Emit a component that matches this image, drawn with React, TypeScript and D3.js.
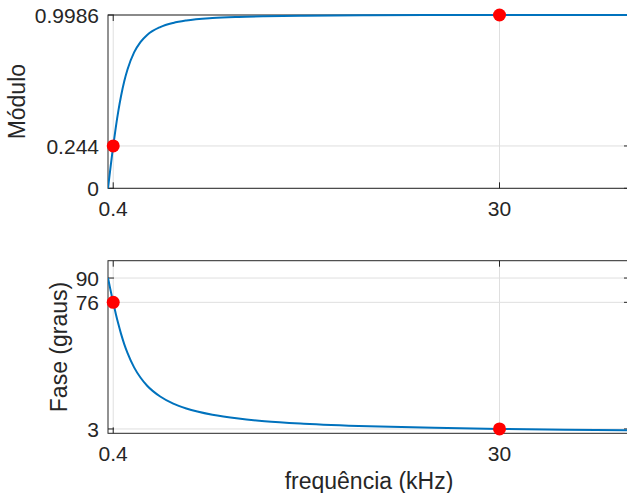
import React from "react";
import * as d3 from "d3";

// frequency samples (kHz)
const freqs = [0, 0.1, 0.2, 0.3, 0.4, 0.6, 0.8, 1.0, 1.25, 1.5, 2, 2.5, 3, 4, 5, 6, 8, 10, 12, 15, 20, 25, 30, 35, 40];
// magnitude
const modulo = [0, 0.063, 0.125, 0.185, 0.244, 0.353, 0.449, 0.532, 0.618, 0.686, 0.783, 0.844, 0.884, 0.929, 0.953, 0.967, 0.981, 0.9876, 0.9913, 0.9944, 0.9969, 0.998, 0.9986, 0.999, 0.9992];
// phase (degrees)
const fase = [90, 86.4, 82.8, 79.3, 75.9, 69.3, 63.3, 57.8, 51.8, 46.7, 38.5, 32.5, 27.9, 21.7, 17.6, 14.8, 11.2, 9.0, 7.5, 6.05, 4.55, 3.64, 3.03, 2.6, 2.28];

const markFreqs = [0.4, 30];
const markModulo = [0.244, 0.9986];
const markFase = [76, 3];

const xTicks = [0.4, 30];
const xTickLabels = ["0.4", "30"];
const yTicksTop = [0, 0.244, 0.9986];
const yTickLabelsTop = ["0", "0.244", "0.9986"];
const yTicksBot = [3, 76, 90];
const yTickLabelsBot = ["3", "76", "90"];

const W = 627;
const H = 493;
const LEFT = 108;
const RIGHT = 630;
const FONT = "'Liberation Sans', Arial, Helvetica, sans-serif";
const AX = "#262626";
const GRID = "#dfdfdf";
const LINE = "#0072BD";

type PanelProps = {
  id: string;
  top: number;
  bottom: number;
  yDomain: [number, number];
  yTicks: number[];
  yLabels: string[];
  values: number[];
  marks: number[];
  ylabel: string;
};

function Panel({ id, top, bottom, yDomain, yTicks, yLabels, values, marks, ylabel }: PanelProps) {
  const x = d3.scaleLinear().domain([0, 40]).range([LEFT, RIGHT]);
  const y = d3.scaleLinear().domain(yDomain).range([bottom, top]);
  const line = d3
    .line<number>()
    .x((_, i) => x(freqs[i]))
    .y((d) => y(d))
    .curve(d3.curveMonotoneX);
  const tl = 6;
  return (
    <g>
      <defs>
        <clipPath id={id}>
          <rect x={LEFT} y={top - 1} width={RIGHT - LEFT} height={bottom - top + 2} />
        </clipPath>
      </defs>
      {/* grid */}
      {xTicks.map((t) => (
        <line key={"gx" + t} x1={x(t)} x2={x(t)} y1={top} y2={bottom} stroke={GRID} strokeWidth={1} />
      ))}
      {yTicks.map((t) => (
        <line key={"gy" + t} x1={LEFT} x2={RIGHT} y1={y(t)} y2={y(t)} stroke={GRID} strokeWidth={1} />
      ))}
      {/* ticks */}
      {xTicks.map((t) => (
        <g key={"tx" + t}>
          <line x1={x(t)} x2={x(t)} y1={bottom} y2={bottom - tl} stroke={AX} />
          <line x1={x(t)} x2={x(t)} y1={top} y2={top + tl} stroke={AX} />
        </g>
      ))}
      {yTicks.map((t) => (
        <g key={"ty" + t}>
          <line x1={LEFT} x2={LEFT + tl} y1={y(t)} y2={y(t)} stroke={AX} />
          <line x1={RIGHT} x2={RIGHT - tl} y1={y(t)} y2={y(t)} stroke={AX} />
        </g>
      ))}
      {/* box */}
      <rect x={LEFT} y={top} width={RIGHT - LEFT} height={bottom - top} fill="none" stroke={AX} strokeWidth={1} />
      {/* curve */}
      <path d={line(values) || ""} fill="none" stroke={LINE} strokeWidth={2} clipPath={`url(#${id})`} />
      {/* markers */}
      {markFreqs.map((f, i) => (
        <circle key={"m" + i} cx={x(f)} cy={y(marks[i])} r={6.5} fill="#ff0000" />
      ))}
      {/* tick labels */}
      {xTicks.map((t, i) => (
        <text key={"lx" + t} x={x(t)} y={bottom + 28} textAnchor="middle" fontSize={21} fill={AX} fontFamily={FONT}>
          {xTickLabels[i]}
        </text>
      ))}
      {yTicks.map((t, i) => (
        <text key={"ly" + t} x={LEFT - 9} y={y(t)} dy="0.36em" textAnchor="end" fontSize={21} fill={AX} fontFamily={FONT}>
          {yLabels[i]}
        </text>
      ))}
      <text
        transform={`translate(${ylabel === "Módulo" ? 25 : 67},${(top + bottom) / 2}) rotate(-90)`}
        textAnchor="middle"
        fontSize={23}
        fill={AX}
        fontFamily={FONT}
      >
        {ylabel}
      </text>
    </g>
  );
}

export default function App() {
  return (
    <svg
      width={W}
      height={H}
      style={{ position: "absolute", left: 0, top: 0, background: "#fff" }}
    >
      <rect x={0} y={0} width={W} height={H} fill="#fff" />
      <Panel
        id="clipTop"
        top={15}
        bottom={188.3}
        yDomain={[0, 0.9986]}
        yTicks={yTicksTop}
        yLabels={yTickLabelsTop}
        values={modulo}
        marks={markModulo}
        ylabel="Módulo"
      />
      <Panel
        id="clipBot"
        top={260.7}
        bottom={433.3}
        yDomain={[0.5, 100]}
        yTicks={yTicksBot}
        yLabels={yTickLabelsBot}
        values={fase}
        marks={markFase}
        ylabel="Fase (graus)"
      />
      <text x={(LEFT + RIGHT) / 2} y={489} textAnchor="middle" fontSize={23} fill={AX} fontFamily={FONT}>
        frequência (kHz)
      </text>
    </svg>
  );
}
